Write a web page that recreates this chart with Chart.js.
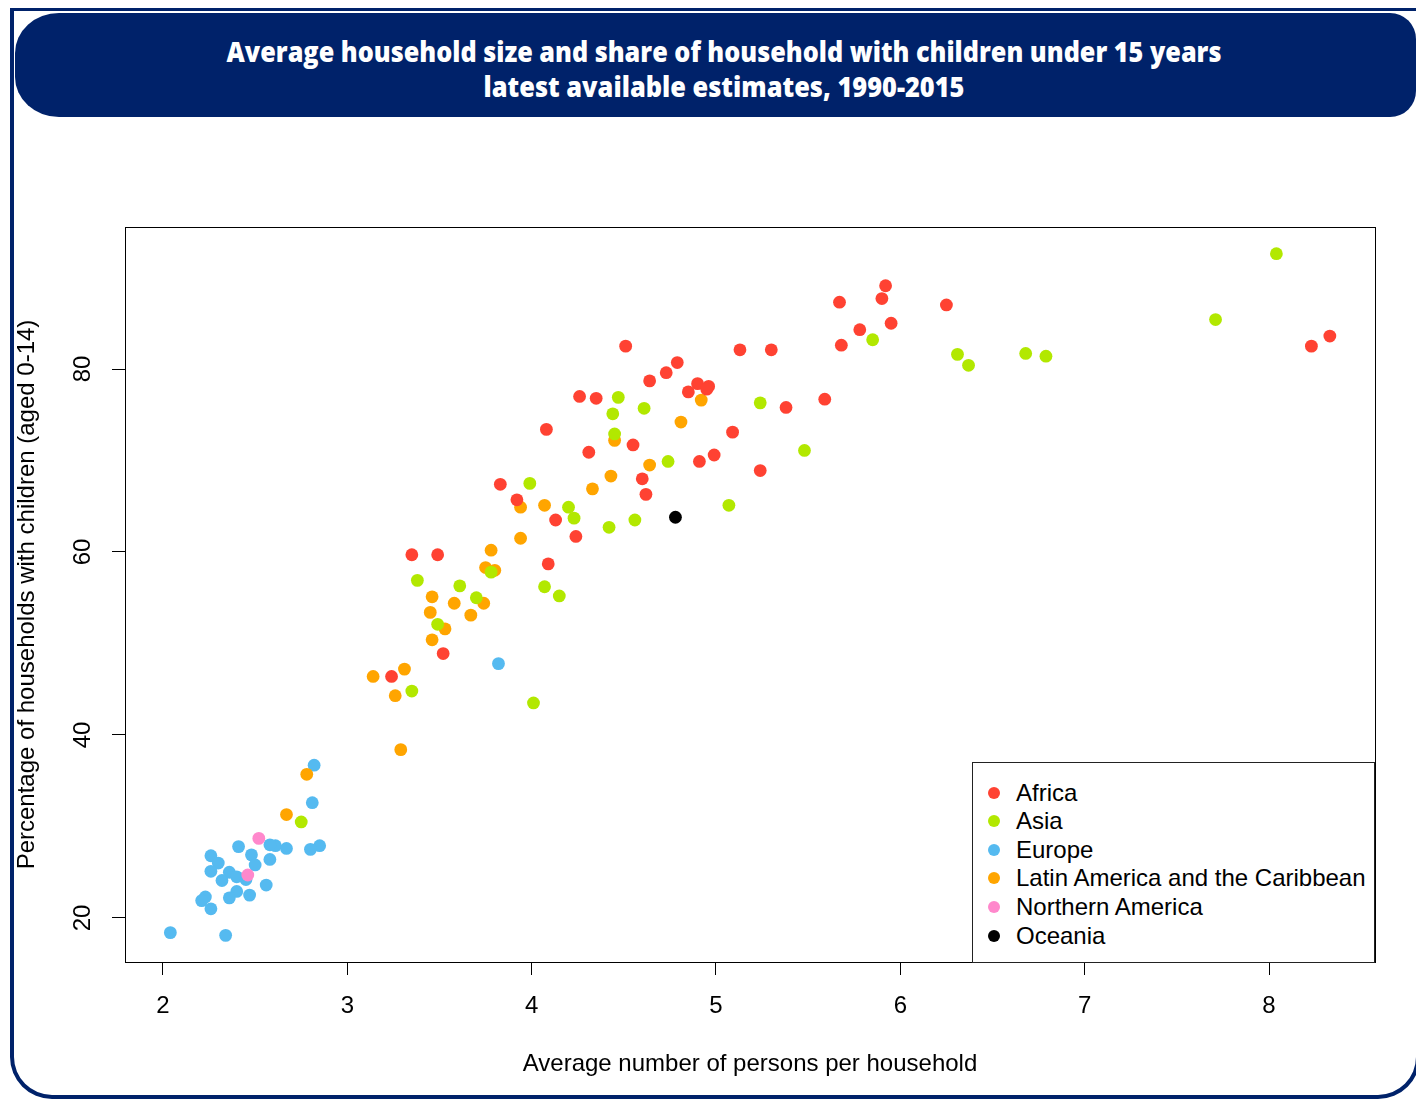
<!DOCTYPE html>
<html>
<head>
<meta charset="utf-8">
<script src="https://cdn.jsdelivr.net/npm/chart.js@4.4.1/dist/chart.umd.min.js"></script>
<style>
html,body{margin:0;padding:0;background:#fff;}
body{width:1416px;height:1100px;position:relative;overflow:hidden;font-family:"Liberation Sans",Arial,sans-serif;}
#frame{position:absolute;left:10px;top:8px;width:1410px;height:1091px;box-sizing:border-box;border:4px solid #00226A;border-top-width:3px;border-radius:0 0 42px 42px;}
#banner{position:absolute;left:15px;top:13px;width:1401px;height:104px;background:#00226A;border-radius:44px 26px 26px 44px / 40px 26px 26px 40px;}
.tline{position:absolute;left:723.5px;white-space:nowrap;color:#fff;font-family:"Open Sans",Lato,sans-serif;font-weight:800;font-size:28px;line-height:34px;transform-origin:center center;}
#chartwrap{position:absolute;left:0;top:0;width:1416px;height:1100px;}
#legend{position:absolute;left:972px;top:762px;width:403px;height:201px;box-sizing:border-box;border:1px solid #222;background:#fff;}
.li{position:absolute;left:0;height:28px;line-height:28px;font-size:24px;color:#000;white-space:nowrap;}
.li .dot{position:absolute;left:15px;top:8px;width:12px;height:12px;border-radius:50%;}
.li .lt{position:absolute;left:43px;top:0;}
</style>
</head>
<body>
<div id="frame"></div>
<div id="banner"></div>
<div class="tline" id="t1" style="top:34px">Average household size and share of household with children under 15 years</div>
<div class="tline" id="t2" style="top:69px">latest available estimates, 1990-2015</div>
<div id="chartwrap"><canvas id="c" width="1416" height="1100"></canvas></div>
<div id="legend"></div>
<script>
// ---- data ----
const regionNames = ["Africa","Asia","Europe","Latin America and the Caribbean","Northern America","Oceania"];
const regionColors = ["#FF4232","#B2E800","#55BAF0","#FFA500","#FF88CC","#000000"];

const africaX = [8.33,8.23,5.92,5.90,5.67,6.25,5.95,5.78,5.68,5.13,5.30,4.51,4.79,4.73,4.64,4.90,4.96,4.95,4.85,4.26,4.35,5.59,5.38,4.08,5.09,4.55,4.31,4.99,4.91,5.24,4.60,3.83,4.62,3.92,4.13,4.24,3.35,3.49,4.09,3.52,3.24];
const africaY = [83.6,82.5,89.1,87.7,87.3,87.0,85.0,84.3,82.6,82.1,82.1,82.5,80.7,79.6,78.7,78.4,78.1,77.8,77.5,77.0,76.8,76.7,75.8,73.4,73.1,71.7,70.9,70.6,69.9,68.9,68.0,67.4,66.3,65.7,63.5,61.7,59.7,59.7,58.7,48.9,46.4];

const asiaX = [8.04,7.71,6.31,6.37,6.68,6.79,5.85,5.24,5.48,4.47,4.44,4.61,4.45,4.74,5.07,3.99,4.20,4.23,4.42,4.56,3.38,3.61,3.70,3.49,3.35,3.78,4.07,4.15,4.01,2.75];
const asiaY = [92.6,85.4,81.6,80.4,81.7,81.4,83.2,76.3,71.1,76.9,75.1,75.7,72.9,69.9,65.1,67.5,64.9,63.7,62.7,63.5,56.9,56.3,55.0,52.1,44.8,57.8,56.2,55.2,43.5,30.5];

const europeX = [2.82,2.81,2.85,2.80,2.67,2.61,2.58,2.41,2.48,2.58,2.26,2.30,2.50,2.26,2.36,2.40,2.32,2.45,2.56,2.40,2.36,2.47,2.23,2.21,2.26,2.04,2.34,3.82];
const europeY = [36.7,32.6,27.9,27.5,27.6,27.9,28.0,27.8,26.9,26.4,26.8,26.0,25.8,25.1,25.0,24.5,24.1,24.2,23.6,22.9,22.2,22.5,22.3,21.9,21.0,18.4,18.1,47.8];

const latamX = [4.92,4.81,4.45,4.64,4.43,4.33,3.94,4.07,3.94,3.78,3.75,3.80,3.46,3.58,3.74,3.45,3.67,3.53,3.46,3.31,3.14,3.26,3.29,2.78,2.67];
const latamY = [76.6,74.2,72.2,69.5,68.3,66.9,64.9,65.1,61.5,60.2,58.3,58.0,55.1,54.4,54.4,53.4,53.1,51.6,50.4,47.2,46.4,44.3,38.4,35.7,31.3];

const northAmX = [2.52,2.46];
const northAmY = [28.7,24.7];

const oceaniaX = [4.78];
const oceaniaY = [63.8];

const xTicks = [2,3,4,5,6,7,8];
const yTicks = [20,40,60,80];
const xTitle = "Average number of persons per household";
const yTitle = "Percentage of households with children (aged 0-14)";

// ---- build ----
const seriesX = [africaX, asiaX, europeX, latamX, northAmX, oceaniaX];
const seriesY = [africaY, asiaY, europeY, latamY, northAmY, oceaniaY];
const drawOrder = [2,3,5,4,1,0];
const datasets = regionNames.map((name,i)=>({
  label: name,
  data: seriesX[i].map((x,k)=>({x:x, y:seriesY[i][k]})),
  backgroundColor: regionColors[i],
  borderWidth: 0,
  pointRadius: 6.4,
  pointHoverRadius: 6.4,
  order: drawOrder[i]
}));

const FONT = "'Liberation Sans', Arial, sans-serif";

const framePlugin = {
  id: 'framePlugin',
  afterDraw(chart){
    const ctx = chart.ctx, a = chart.chartArea;
    ctx.save();
    ctx.strokeStyle = '#000';
    ctx.lineWidth = 1;
    ctx.strokeRect(Math.round(a.left)+0.5, Math.round(a.top)+0.5, Math.round(a.right-a.left), Math.round(a.bottom-a.top));
    // rotated y tick labels
    const ys = chart.scales.y;
    ctx.fillStyle = '#000';
    ctx.font = "24px " + FONT;
    ctx.textAlign = 'center';
    ctx.textBaseline = 'middle';
    yTicks.forEach(v=>{
      const py = ys.getPixelForValue(v);
      ctx.save();
      ctx.translate(83, py);
      ctx.rotate(-Math.PI/2);
      ctx.fillText(String(v), 0, 0);
      ctx.restore();
    });
    ctx.restore();
  }
};

new Chart(document.getElementById('c'), {
  type: 'scatter',
  data: { datasets },
  plugins: [framePlugin],
  options: {
    responsive: false,
    devicePixelRatio: 1,
    animation: false,
    layout: { padding: { left: 0, top: 227, right: 41, bottom: 0 } },
    plugins: { legend: { display: false }, tooltip: { enabled: false }, title: { display: false } },
    scales: {
      x: {
        type: 'linear',
        min: 1.794, max: 8.575,
        afterBuildTicks: s => { s.ticks = xTicks.map(v=>({value:v})); },
        afterFit: s => { s.height = 138; },
        border: { display: false },
        grid: { drawOnChartArea: false, drawTicks: true, tickLength: 13, color: '#000', lineWidth: 1 },
        ticks: { color: '#000', font: { family: FONT, size: 24 }, padding: 17, maxRotation: 0, autoSkip: false, callback: v => String(v) },
        title: { display: true, text: xTitle, color: '#000', font: { family: FONT, size: 24 }, padding: { top: 0, bottom: 21 } }
      },
      y: {
        type: 'linear',
        min: 15.19, max: 95.52,
        afterBuildTicks: s => { s.ticks = yTicks.map(v=>({value:v})); },
        afterFit: s => { s.width = 125; },
        border: { display: false },
        grid: { drawOnChartArea: false, drawTicks: true, tickLength: 13, color: '#000', lineWidth: 1 },
        ticks: { display: false },
        title: { display: true, text: yTitle, color: '#000', font: { family: FONT, size: 24 }, padding: { top: 13, bottom: 0 } }
      }
    }
  }
});

// legend (HTML)
const lg = document.getElementById('legend');
regionNames.forEach((n,i)=>{
  const d = document.createElement('div');
  d.className = 'li';
  d.style.top = (15.5 + i*28.6) + 'px';
  d.innerHTML = '<span class="dot" style="background:'+regionColors[i]+'"></span><span class="lt"></span>';
  d.querySelector('.lt').textContent = n;
  lg.appendChild(d);
});

// fit title lines to reference widths
function fit(id, w){
  const el = document.getElementById(id);
  const r = el.getBoundingClientRect();
  el.style.transform = 'translateX(-50%) scaleX(' + (w / r.width) + ')';
}
fit('t1', 995); fit('t2', 481);
</script>
</body>
</html>
